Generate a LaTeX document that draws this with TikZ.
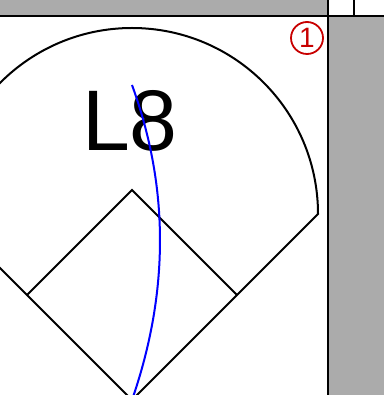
\documentclass[tikz,border=0pt]{standalone}
\usepackage{fontspec}
\setmainfont{Liberation Sans}
\definecolor{panelgray}{RGB}{171,171,171}
\definecolor{badgered}{RGB}{200,0,0}
\begin{document}
\begin{tikzpicture}[x=1pt,y=-1pt,
  fieldline/.style={black,line width=2pt},
  border/.style={black,line width=2pt},
  hitpath/.style={blue,line width=2pt},
  badge/.style={circle,draw=badgered,line width=1.8pt,minimum size=32pt,inner sep=0pt,text=badgered,font=\fontsize{28}{28}\selectfont},
  biglabel/.style={anchor=base,inner sep=0pt,font=\fontsize{86}{86}\selectfont}]
\useasboundingbox (0,0) rectangle (384,395);
\fill[white] (0,0) rectangle (384,395);
\fill[panelgray] (0,0) rectangle (328,16);
\fill[panelgray] (328,16) rectangle (384,395);
\draw[border] (0,16) -- (384,16);
\draw[border] (328,0) -- (328,395);
\draw[border] (354,0) -- (354,16);
\coordinate (home) at (132,400);
\coordinate (third) at (27,295);
\coordinate (second) at (132,190);
\coordinate (first) at (237,295);
\coordinate (lf) at (-54,214);
\coordinate (rf) at (318,214);
\coordinate (top) at (132,85);
\begin{scope}
\clip (0,17) rectangle (327,395);
\draw[fieldline] (lf) -- (home) -- (rf) arc[start angle=0,end angle=-180,radius=186];
\draw[fieldline] (third) -- (second) -- (first);
\node[biglabel] (lbl) at (130,150) {L8};
\draw[hitpath] (home) .. controls (169.3,292.3) and (169.3,187.3) .. (top);
\end{scope}
\node[badge] (b1) at (307,38) {1};
\end{tikzpicture}
\end{document}
